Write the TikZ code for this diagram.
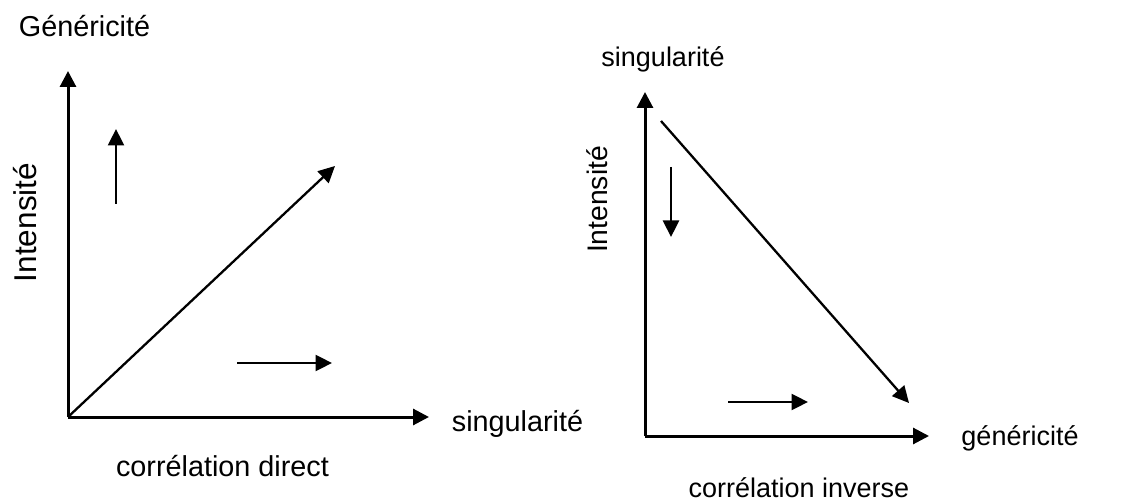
\documentclass[tikz,border=0pt]{standalone}
\usepackage{fontspec}
\setmainfont{Liberation Sans}
\usetikzlibrary{arrows.meta}
\begin{document}
\begin{tikzpicture}[x=1pt,y=-1pt,
  axis/.style={line width=3pt,-{Triangle[length=16pt,width=16pt]}},
  arr/.style={line width=2.3pt,-{Triangle[length=16.5pt,width=16pt]}},
  lblL/.style={inner sep=0pt,anchor=base,font=\fontsize{28.8}{33}\selectfont},
  lblR/.style={inner sep=0pt,anchor=base,font=\fontsize{27}{31}\selectfont},
  rotL/.style={inner sep=0pt,anchor=base,rotate=90,font=\fontsize{31.5}{36}\selectfont},
  rotR/.style={inner sep=0pt,anchor=base,rotate=90,font=\fontsize{28.3}{33}\selectfont}]
\useasboundingbox (0,0) rectangle (1121,502);
% left chart
\coordinate (oL) at (68,417);
\coordinate (yL) at (68,71);
\coordinate (xL) at (429,417);
\coordinate (dL) at (335,166);
\coordinate (u1) at (116,204);
\coordinate (u2) at (116,129);
\coordinate (r1) at (237,363);
\coordinate (r2) at (332,363);
\draw[axis] (oL) -- (yL);
\draw[axis] (oL) -- (xL);
\draw[arr] (oL) -- (dL);
\draw[arr] (u1) -- (u2);
\draw[arr] (r1) -- (r2);
\node[lblL] (gen) at (84.5,36.7) {Généricité};
\node[lblL] (singL) at (517.5,431) {singularité};
\node[lblL] (corrD) at (222.5,476) {corrélation direct};
\node[rotL] (intL) at (36,222.5) {Intensité};
% right chart
\coordinate (oR) at (645,436);
\coordinate (yR) at (645,92);
\coordinate (xR) at (929,436);
\coordinate (d1) at (661,121);
\coordinate (d2) at (909,403);
\coordinate (v1) at (671,167);
\coordinate (v2) at (671,237);
\coordinate (s1) at (728,402);
\coordinate (s2) at (808,402);
\draw[axis] (oR) -- (yR);
\draw[axis] (oR) -- (xR);
\draw[arr] (d1) -- (d2);
\draw[arr] (v1) -- (v2);
\draw[arr] (s1) -- (s2);
\node[lblR] (singR) at (663,67) {singularité};
\node[lblR] (genR) at (1020,445) {généricité};
\node[lblR] (corrI) at (799,497) {corrélation inverse};
\node[rotR] (intR) at (607,199.5) {Intensité};
\end{tikzpicture}
\end{document}
